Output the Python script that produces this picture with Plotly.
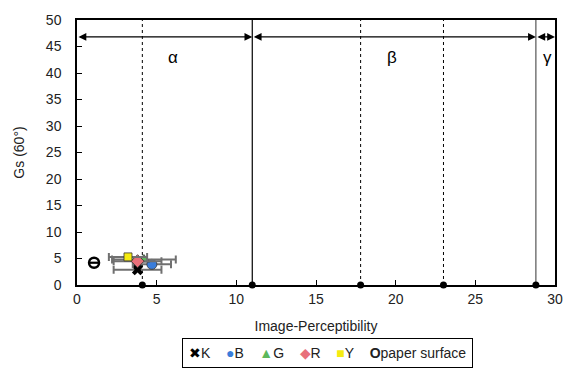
import plotly.graph_objects as go

# Data
series_names = ["K", "B", "G", "R", "Y"]
series_x = [3.8, 4.7, 4.2, 3.8, 3.2]
series_y = [2.9, 3.9, 4.8, 4.5, 5.3]
series_xerr = [1.5, 1.2, 2.0, 1.5, 1.2]
series_colors = ["#000000", "#3A7DDA", "#5CB85C", "#E8707A", "#F5EB10"]
series_symbols = ["x", "circle", "triangle-up", "diamond", "square"]
series_sizes = [10, 10, 10, 10, 8]
legend_glyphs = ["✖", "●", "▲", "◆", "■"]

paper_name = "paper surface"
paper_x = [1.07]
paper_y = [4.2]

solid_bounds = [11.0, 28.8]
dotted_bounds = [4.1, 17.8, 23.0]
region_edges = [0.0, 11.0, 28.8, 30.0]
region_labels = ["α", "β", "γ"]
region_label_x = [6.0, 19.8, 29.5]
arrow_y = 46.8
label_y = 43.0

x_ticks = [0, 5, 10, 15, 20, 25, 30]
y_ticks = [0, 5, 10, 15, 20, 25, 30, 35, 40, 45, 50]

font_family = "Liberation Sans, Arial, sans-serif"

fig = go.Figure()

# vertical boundary lines
for xv in solid_bounds:
    fig.add_trace(go.Scatter(x=[xv, xv], y=[0, 50], mode="lines",
                             line=dict(color="#000000" if xv < 20 else "#555555", width=1.2),
                             showlegend=False, hoverinfo="skip"))
for xv in dotted_bounds:
    fig.add_trace(go.Scatter(x=[xv, xv], y=[0, 50], mode="lines",
                             line=dict(color="#000000", width=1, dash="dot"),
                             showlegend=False, hoverinfo="skip"))
bx = solid_bounds + dotted_bounds
fig.add_trace(go.Scatter(x=bx, y=[0] * len(bx), mode="markers",
                         marker=dict(color="black", size=7), cliponaxis=False,
                         showlegend=False, hoverinfo="skip"))

# data series
for n, xv, yv, e, c, s, sz in zip(series_names, series_x, series_y, series_xerr,
                                  series_colors, series_symbols, series_sizes):
    fig.add_trace(go.Scatter(
        x=[xv], y=[yv], mode="markers", name=n, showlegend=False,
        marker=dict(color=c, symbol=s, size=sz,
                    line=dict(color="#333333", width=0 if n == "K" else 0.8)),
        error_x=dict(type="data", array=[e], color="#707070", thickness=2, width=4),
    ))

# paper surface
fig.add_trace(go.Scatter(x=paper_x, y=paper_y, mode="markers", name=paper_name,
                         showlegend=False,
                         marker=dict(symbol="circle-open", size=10, color="black",
                                     line=dict(width=2.5, color="black"))))
fig.add_trace(go.Scatter(x=paper_x, y=paper_y, mode="markers", showlegend=False,
                         marker=dict(symbol="line-ew-open", size=7, color="black",
                                     line=dict(width=2.2, color="black")),
                         hoverinfo="skip"))

# region arrows and labels
annotations = []
for i in range(len(region_labels)):
    x0, x1 = region_edges[i], region_edges[i + 1]
    annotations.append(dict(x=x1, y=arrow_y, ax=x0, ay=arrow_y, xref="x", yref="y",
                            axref="x", ayref="y", text="", showarrow=True,
                            arrowhead=2, startarrowhead=2, arrowside="end+start",
                            arrowsize=1.3, startarrowsize=1.3, arrowwidth=1.2,
                            arrowcolor="black"))
    annotations.append(dict(x=region_label_x[i], y=label_y, xref="x", yref="y",
                            text=region_labels[i], showarrow=False,
                            font=dict(size=17, color="black", family=font_family)))

# legend box (compact, Excel-like)
parts = []
for g, n, c in zip(legend_glyphs, series_names, series_colors):
    parts.append(f'<span style="color:{c}">{g}</span>{n}')
parts.append(f'<b>O</b>{paper_name}')
legend_text = "&nbsp;&nbsp;&nbsp;&nbsp;".join(parts)
annotations.append(dict(x=0.525, y=-0.258, xref="paper", yref="paper",
                        xanchor="center", yanchor="middle", showarrow=False,
                        text=legend_text, bordercolor="black", borderwidth=1,
                        borderpad=6, bgcolor="white",
                        font=dict(size=14, color="#222222", family=font_family)))

fig.update_layout(
    width=575, height=381,
    margin=dict(l=77, r=14, t=16, b=96),
    paper_bgcolor="white", plot_bgcolor="white",
    font=dict(family=font_family, size=14, color="#222222"),
    annotations=annotations,
    showlegend=False,
    xaxis=dict(range=[0, 30], tickvals=x_ticks, ticks="inside", ticklen=5,
               showgrid=False, zeroline=False, showline=True, linecolor="black",
               linewidth=1.5, mirror=True, tickcolor="black",
               title=dict(text="Image-Perceptibility", standoff=16,
                          font=dict(size=14, color="#222222"))),
    yaxis=dict(range=[0, 50], tickvals=y_ticks, ticks="inside", ticklen=5,
               showgrid=False, zeroline=False, showline=True, linecolor="black",
               linewidth=1.5, mirror=True, tickcolor="black",
               ticklabelstandoff=11,
               title=dict(text="Gs (60°)", standoff=18,
                          font=dict(size=14, color="#222222"))),
)

fig.write_html("out.html")
